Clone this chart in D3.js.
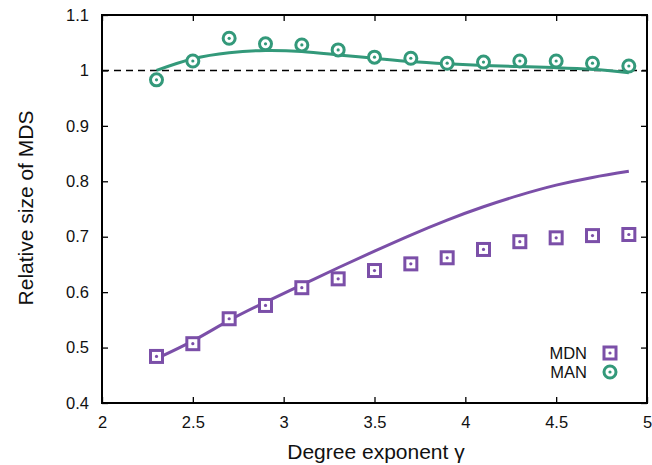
<!DOCTYPE html>
<html>
<head>
<meta charset="utf-8">
<script src="https://cdn.jsdelivr.net/npm/d3@7"></script>
<style>
  body { margin: 0; background: #fff; }
  svg { font-family: "Liberation Sans", Arial, sans-serif; }
</style>
</head>
<body>
<svg id="canvas" width="652" height="465"></svg>
<script>
// degree exponent values
let gammas = [2.3, 2.5, 2.7, 2.9, 3.1, 3.3, 3.5, 3.7, 3.9, 4.1, 4.3, 4.5, 4.7, 4.9];

// simulation points
let mdnPoints = [0.484, 0.507, 0.552, 0.576, 0.608, 0.624, 0.639, 0.651, 0.662, 0.677, 0.691, 0.698, 0.702, 0.704];
let manPoints = [0.983, 1.017, 1.058, 1.048, 1.046, 1.037, 1.024, 1.022, 1.013, 1.015, 1.017, 1.017, 1.013, 1.008];

// theory curves
let mdnCurve = [0.480, 0.512, 0.549, 0.582, 0.613, 0.644, 0.674, 0.703, 0.730, 0.754, 0.775, 0.793, 0.807, 0.818];
let manCurve = [1.000, 1.021, 1.032, 1.036, 1.034, 1.028, 1.022, 1.016, 1.012, 1.009, 1.007, 1.005, 1.002, 0.996];

let xTicks = [2, 2.5, 3, 3.5, 4, 4.5, 5];
let yTicks = [0.4, 0.5, 0.6, 0.7, 0.8, 0.9, 1, 1.1];

const purple = '#7b4fa8';
const green = '#33997a';

const plotLeft = 102, plotRight = 647, plotTop = 15, plotBottom = 403;

let svg = d3.select('#canvas');

let x = d3.scaleLinear().domain([2, 5]).range([plotLeft, plotRight]);
let y = d3.scaleLinear().domain([0.4, 1.1]).range([plotBottom, plotTop]);

// axes with inward ticks, mirrored on top/right
function tickFmt(d) { return String(+d.toFixed(2)); }

svg.append('g').attr('transform', `translate(0,${plotBottom})`)
    .call(d3.axisBottom(x).tickValues(xTicks).tickSize(-6).tickPadding(13).tickFormat(tickFmt))
    .call(g => g.select('.domain').remove());
svg.append('g').attr('transform', `translate(0,${plotTop})`)
    .call(d3.axisTop(x).tickValues(xTicks).tickSize(-6).tickFormat(''))
    .call(g => g.select('.domain').remove());
svg.append('g').attr('transform', `translate(${plotLeft},0)`)
    .call(d3.axisLeft(y).tickValues(yTicks).tickSize(-6).tickPadding(13).tickFormat(tickFmt))
    .call(g => g.select('.domain').remove());
svg.append('g').attr('transform', `translate(${plotRight},0)`)
    .call(d3.axisRight(y).tickValues(yTicks).tickSize(-6).tickFormat(''))
    .call(g => g.select('.domain').remove());

svg.selectAll('.tick line').attr('stroke', 'black').attr('stroke-width', 1.3);
svg.selectAll('.tick text').attr('font-size', 16.5).attr('fill', '#111')
    .attr('font-family', '"Liberation Sans", Arial, sans-serif');

// frame
svg.append('rect')
    .attr('x', plotLeft).attr('y', plotTop)
    .attr('width', plotRight - plotLeft).attr('height', plotBottom - plotTop)
    .attr('fill', 'none').attr('stroke', 'black').attr('stroke-width', 2);

// reference line at 1
svg.append('line')
    .attr('x1', x(2)).attr('x2', x(5))
    .attr('y1', y(1)).attr('y2', y(1))
    .attr('stroke', 'black').attr('stroke-width', 1.4)
    .attr('stroke-dasharray', '7,5');

// curves
let line = d3.line()
    .x((d, i) => x(gammas[i]))
    .y(d => y(d))
    .curve(d3.curveNatural);

svg.append('path').datum(manCurve)
    .attr('d', line).attr('fill', 'none')
    .attr('stroke', green).attr('stroke-width', 3);
svg.append('path').datum(mdnCurve)
    .attr('d', line).attr('fill', 'none')
    .attr('stroke', purple).attr('stroke-width', 3);

// markers
function squareMark(g, cx, cy) {
    g.append('rect')
        .attr('x', cx - 6).attr('y', cy - 6)
        .attr('width', 12).attr('height', 12)
        .attr('fill', 'white').attr('stroke', purple).attr('stroke-width', 3);
    g.append('circle').attr('cx', cx).attr('cy', cy).attr('r', 1.6).attr('fill', purple);
}
function circleMark(g, cx, cy) {
    g.append('circle').attr('cx', cx).attr('cy', cy).attr('r', 6)
        .attr('fill', 'white').attr('stroke', green).attr('stroke-width', 3);
    g.append('circle').attr('cx', cx).attr('cy', cy).attr('r', 1.6).attr('fill', green);
}

let marks = svg.append('g');
mdnPoints.forEach((d, i) => squareMark(marks, x(gammas[i]), y(d)));
manPoints.forEach((d, i) => circleMark(marks, x(gammas[i]), y(d)));

// legend
let legend = svg.append('g').attr('font-size', 16.5).attr('fill', '#111');
legend.append('text').attr('x', 587).attr('y', 359).attr('text-anchor', 'end').text('MDN');
legend.append('text').attr('x', 587).attr('y', 378).attr('text-anchor', 'end').text('MAN');
squareMark(legend, 610, 353);
circleMark(legend, 610, 372);

// axis labels
svg.append('text')
    .attr('x', 376).attr('y', 459)
    .attr('text-anchor', 'middle').attr('font-size', 21).attr('fill', '#111')
    .text('Degree exponent γ');
svg.append('text')
    .attr('transform', 'translate(33,208) rotate(-90)')
    .attr('text-anchor', 'middle').attr('font-size', 21).attr('fill', '#111')
    .text('Relative size of MDS');
</script>
</body>
</html>
